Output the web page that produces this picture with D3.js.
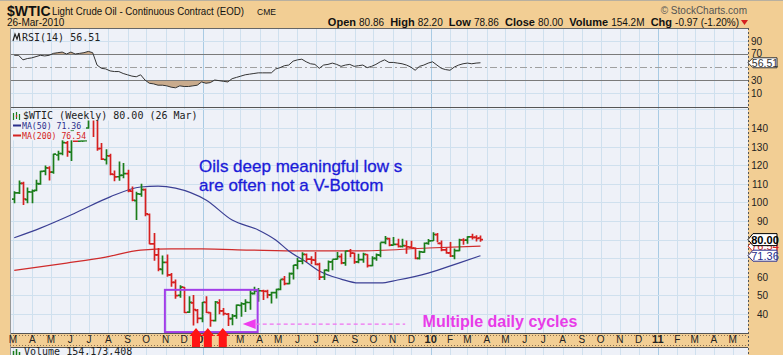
<!DOCTYPE html>
<html>
<head>
<meta charset="utf-8">
<script src="https://cdn.jsdelivr.net/npm/d3@7"></script>
<style>
  body { margin: 0; background: #f2ce94; }
  svg { display: block; }
</style>
</head>
<body>
<div id="chart"></div>
<script>
// weekly bars, first one is the week ending Fri 7 Mar 2008
const firstWeek = Date.UTC(2008, 2, 7);

const opens = [101.8,105.1,110.2,101.5,105.6,106.5,110.0,116.8,118.5,116.3,125.5,126.3,132.0,127.0,133.0,133.0,133.1,140.0,145.0,145.0,
  129.0,123.0,125.0,115.0,113.8,114.6,115.5,106.0,101.0,104.5,106.9,93.5,77.7,71.8,64.0,67.8,61.0,57.0,50.0,54.4,
  41.0,46.0,42.0,37.7,46.3,40.8,36.5,46.0,41.7,40.0,37.5,39.0,44.7,45.5,46.2,51.0,52.4,52.5,52.2,50.3,
  51.5,53.2,58.6,56.3,61.7,66.3,68.4,72.0,69.5,69.0,66.7,59.9,63.5,68.0,69.5,70.9,67.5,73.9,72.7,68.0,
  69.3,72.0,66.0,69.9,71.7,78.5,80.5,77.0,77.4,76.3,76.7,76.0,75.5,69.9,73.3,78.0,79.4,82.7,78.0,74.5,
  72.9,71.2,74.1,79.8,79.7,81.5,81.2,80.86];
const highs = [105.97,111.8,111.1,108.0,106.9,112.2,117.0,119.9,119.5,126.2,127.8,135.09,133.0,139.12,133.4,133.4,133.5,145.85,147.27,146.7,
  132.0,128.6,126.2,117.2,122.0,121.2,117.6,108.6,105.8,110.0,107.5,94.0,83.5,75.5,71.5,72.0,62.0,58.5,55.5,54.5,
  49.6,50.2,42.7,46.5,49.5,41.0,47.0,48.0,43.2,40.5,40.0,45.1,46.3,47.9,53.0,54.7,54.0,53.0,53.0,52.0,
  53.6,58.6,60.5,62.3,66.3,70.3,73.23,72.5,71.0,73.38,67.5,64.0,68.8,69.3,73.3,72.5,74.0,75.0,73.0,72.4,
  73.0,72.1,71.0,72.5,78.5,82.0,81.0,81.4,80.5,80.5,79.5,79.4,75.8,74.0,78.5,80.3,83.95,83.5,79.5,75.6,
  78.7,75.2,80.5,80.7,81.8,83.2,82.3,82.20];
const lows = [99.5,104.5,98.65,99.5,99.55,106.0,109.5,114.6,111.8,115.4,122.5,125.3,124.6,122.3,132.6,132.6,132.7,139.6,135.2,127.8,
  122.8,120.4,114.6,111.34,111.6,113.0,105.5,100.6,90.5,103.0,92.5,77.56,68.6,63.0,61.3,60.0,54.6,48.25,48.7,40.5,
  40.5,33.87,35.1,35.6,40.5,33.2,36.0,39.9,39.2,33.55,33.98,37.5,38.5,41.1,42.3,50.5,46.6,47.5,48.5,45.7,
  48.3,52.8,55.5,56.0,58.5,64.1,66.8,68.0,66.7,66.2,58.3,58.3,62.7,63.5,69.3,66.7,66.0,70.5,67.0,67.3,
  67.6,65.0,65.7,68.6,70.5,77.5,76.5,76.8,75.8,75.7,72.4,75.4,69.5,69.3,73.0,77.2,79.2,78.6,73.7,72.4,
  70.7,69.5,73.7,77.3,77.8,80.1,79.0,78.86];
const closes = [105.15,110.21,101.84,105.62,106.23,110.14,116.69,118.52,116.32,125.96,126.29,132.19,127.35,138.54,133.0,133.1,133.2,145.29,145.08,128.88,
  123.26,125.10,115.20,113.77,114.59,115.46,106.23,101.18,104.55,106.89,93.88,77.70,71.85,64.15,67.81,61.04,57.04,49.93,54.43,40.81,
  46.28,42.36,37.71,46.34,40.83,36.51,46.47,41.68,40.17,37.51,38.94,44.76,45.52,46.25,51.06,52.38,52.51,52.24,50.33,51.55,
  53.20,58.63,56.34,61.67,66.31,68.44,72.04,69.55,69.16,66.73,59.89,63.56,68.05,69.45,70.93,67.51,73.89,72.74,68.02,69.29,
  72.04,66.02,69.95,71.77,78.53,80.50,77.00,77.43,76.35,76.72,76.05,75.47,69.87,73.36,78.05,79.36,82.75,78.00,74.54,72.89,
  71.19,74.13,79.81,79.66,81.50,81.24,80.68,80.00];

// RSI(14), one value per weekly bar
const rsiValues = [68,68,61,63,64,66,68,67,68,71,72,73,70,73,70,71,72,74,72,53,
  48,47,44,43,43,40,38,36,35,38,30,25,24,22,22,21,19,18,21,20,
  20,21,22,27,25,26,30,29,28,27,32,34,36,38,39,40,41,41,41,41,
  47,49,52,53,59,61,62,58,55,54,48,53,54,56,54,51,53,54,51,52,
  53,49,51,54,58,61,57,57,56,55,53,50,45,51,53,56,58,53,48,46,
  45,50,53,55,56,55,56,56.51];

// moving averages at a few bars (bar index -> value)
const ma50Weeks  = [0, 6, 14, 22, 29, 33, 37, 44, 50, 56, 60, 63, 67, 70, 75, 79, 84, 88, 95, 102, 107];
const ma50Values = [81, 86.2, 94.3, 103, 108.3, 108.8, 107.7, 101.3, 90.5, 85.2, 79.8, 73.9, 68, 63.1, 58.8, 56.7, 56.7, 58.3, 62, 67.4, 71.36];
const ma200Weeks  = [0, 12, 21, 29, 36, 43, 54, 66, 79, 95, 107];
const ma200Values = [63.5, 67.4, 70.6, 74.4, 75, 75, 74.4, 73.9, 73.9, 75.5, 76.54];

const priceTicks = [40, 50, 60, 90, 100, 110, 120, 130, 140];
const priceGrid = [40, 50, 60, 70, 80, 90, 100, 110, 120, 130, 140, 150];
const rsiTicks = [10, 30, 70, 90];

// annotations
const lowArrows = [Date.UTC(2008, 11, 20), Date.UTC(2009, 0, 8), Date.UTC(2009, 1, 1)];

const W = 783, H = 355;
const left = 10, right = 748;
const rsiTop = 28, rsiBottom = 107, mainTop = 107, mainBottom = 333, volTop = 347;
const panelBg = "#eef1f8";
const gridCol = "#cfe0ee";
const yearGridCol = "#a9cbe4";
const upCol = "#1b7d1b", downCol = "#d62020";

const dates = d3.range(closes.length).map(i => d3.utcDay.offset(new Date(firstWeek), 7 * i - 4));

const x = d3.scaleUtc()
  .domain([new Date(Date.UTC(2008, 2, 1)), new Date(Date.UTC(2011, 0, 1))])
  .range([13, 657.9]);
const y = d3.scaleLinear().domain([29.8, 151.3]).range([mainBottom, mainTop]);
const yr = d3.scaleLinear().domain([0, 100]).range([99.5, 34.5]);

const svg = d3.select("#chart").append("svg")
  .attr("width", W)
  .attr("height", H)
  .style("font-family", "'Liberation Sans', Arial, sans-serif");

svg.append("rect").attr("width", W).attr("height", H).attr("fill", "#f2ce94");
svg.append("line").attr("x1", 0).attr("x2", W).attr("y1", 0.5).attr("y2", 0.5).attr("stroke", "#b8b0a0");

const defs = svg.append("defs");
defs.append("clipPath").attr("id", "clipRsi").append("rect")
  .attr("x", left).attr("y", rsiTop).attr("width", right - left).attr("height", rsiBottom - rsiTop);
defs.append("clipPath").attr("id", "clipMain").append("rect")
  .attr("x", left).attr("y", mainTop).attr("width", right - left).attr("height", mainBottom - mainTop);
defs.append("clipPath").attr("id", "clipOver").append("rect")
  .attr("x", left).attr("y", rsiTop).attr("width", right - left).attr("height", yr(70) - rsiTop);
defs.append("clipPath").attr("id", "clipUnder").append("rect")
  .attr("x", left).attr("y", yr(30)).attr("width", right - left).attr("height", rsiBottom - yr(30));

// panel backgrounds
[[rsiTop, rsiBottom], [mainTop, mainBottom], [volTop, H + 5]].forEach(p => {
  svg.append("rect")
    .attr("x", left).attr("y", p[0]).attr("width", right - left).attr("height", p[1] - p[0])
    .attr("fill", panelBg);
});

const months = d3.utcMonth.range(new Date(Date.UTC(2008, 2, 1)), new Date(Date.UTC(2011, 5, 1)))
  .filter(d => x(d) < right - 2);

// vertical month grid in every panel
[[rsiTop, rsiBottom], [mainTop, mainBottom], [volTop, H]].forEach(p => {
  svg.append("g").selectAll("line")
    .data(months)
    .join("line")
      .attr("x1", d => Math.round(x(d)) + 0.5)
      .attr("x2", d => Math.round(x(d)) + 0.5)
      .attr("y1", p[0]).attr("y2", p[1])
      .attr("stroke", d => d.getUTCMonth() == 0 ? yearGridCol : gridCol);
});

// horizontal grid
svg.append("g").selectAll("line")
  .data(priceGrid)
  .join("line")
    .attr("x1", left).attr("x2", right)
    .attr("y1", d => Math.round(y(d)) + 0.5).attr("y2", d => Math.round(y(d)) + 0.5)
    .attr("stroke", gridCol);
svg.append("g").selectAll("line")
  .data([10, 90])
  .join("line")
    .attr("x1", left).attr("x2", right)
    .attr("y1", d => Math.round(yr(d)) + 0.5).attr("y2", d => Math.round(yr(d)) + 0.5)
    .attr("stroke", gridCol);

// ---------- RSI panel ----------
const rsiG = svg.append("g").attr("clip-path", "url(#clipRsi)");
const rsiArea70 = d3.area().x((d, i) => x(dates[i])).y0(yr(70)).y1(d => yr(d));
const rsiArea30 = d3.area().x((d, i) => x(dates[i])).y0(yr(30)).y1(d => yr(d));
rsiG.append("path").datum(rsiValues).attr("d", rsiArea70)
  .attr("fill", "#c9ab8d").attr("clip-path", "url(#clipOver)");
rsiG.append("path").datum(rsiValues).attr("d", rsiArea30)
  .attr("fill", "#c9ab8d").attr("clip-path", "url(#clipUnder)");

rsiG.selectAll(".lvl")
  .data([70, 30])
  .join("line")
    .attr("x1", left).attr("x2", right)
    .attr("y1", d => Math.round(yr(d)) + 0.5).attr("y2", d => Math.round(yr(d)) + 0.5)
    .attr("stroke", "#7a7a7a");
rsiG.append("line")
  .attr("x1", left).attr("x2", right)
  .attr("y1", Math.round(yr(50)) + 0.5).attr("y2", Math.round(yr(50)) + 0.5)
  .attr("stroke", "#a0a0a0").attr("stroke-dasharray", "7,3,2,3");

rsiG.append("path").datum(rsiValues)
  .attr("d", d3.line().x((d, i) => x(dates[i])).y(d => yr(d)))
  .attr("fill", "none").attr("stroke", "#333").attr("stroke-width", 1);

// RSI label
svg.append("path").attr("d", "M13,41 L15,34 L17,39 L19,33 L20,41")
  .attr("fill", "none").attr("stroke", "#222").attr("stroke-width", 1.2);
svg.append("text").attr("x", 22).attr("y", 40.5)
  .style("font-family", "'DejaVu Sans Mono', monospace").style("font-size", "10px")
  .attr("fill", "#222").text("RSI(14) 56.51");

svg.append("g").selectAll("text")
  .data(rsiTicks)
  .join("text")
    .attr("x", 751).attr("y", d => yr(d) + (d == 70 ? 2.5 : 3.5))
    .style("font-size", "10px").attr("fill", "#222")
    .text(d => d);

// ---------- price panel ----------
const mainG = svg.append("g").attr("clip-path", "url(#clipMain)");

const maLine = d3.line()
  .x(d => x(dates[Math.min(d[0], dates.length - 1)]))
  .y(d => y(d[1]))
  .curve(d3.curveMonotoneX);

mainG.append("path")
  .datum(ma200Weeks.map((w, i) => [w, ma200Values[i]]))
  .attr("d", maLine)
  .attr("fill", "none").attr("stroke", "#cf2b2b").attr("stroke-width", 1.2);
mainG.append("path")
  .datum(ma50Weeks.map((w, i) => [w, ma50Values[i]]))
  .attr("d", maLine)
  .attr("fill", "none").attr("stroke", "#3b3f94").attr("stroke-width", 1.2);

// the weekly OHLC bars
const bars = d3.range(closes.length).map(i => ({
  date: dates[i], o: opens[i], h: highs[i], l: lows[i], c: closes[i],
  up: i == 0 ? true : closes[i] >= closes[i - 1]
}));

mainG.append("g").selectAll("path")
  .data(bars)
  .join("path")
    .attr("d", d => {
      const bx = Math.round(x(d.date)) + 0.5;
      return `M${bx},${y(d.h)}V${y(d.l)}M${bx - 2.5},${y(d.o)}H${bx}M${bx},${y(d.c)}H${bx + 2.5}`;
    })
    .attr("fill", "none")
    .attr("stroke", d => d.up ? upCol : downCol)
    .attr("stroke-width", 1.7);

// legend, with a background like stockcharts so the bars don't run through it
const legend = svg.append("g").style("font-family", "'DejaVu Sans Mono', monospace");
const legendRows = [
  {txt: "$WTIC (Weekly) 80.00 (26 Mar)", col: "#222", yy: 118.5, fs: 10, cw: 6.02},
  {txt: "MA(50) 71.36", col: "#2a2f8c", yy: 128.5, fs: 8.2, cw: 4.94},
  {txt: "MA(200) 76.54", col: "#d42222", yy: 138.5, fs: 8.2, cw: 4.94}
];
legendRows.forEach(r => {
  legend.append("rect").attr("x", 12).attr("y", r.yy - r.fs * 0.9).attr("width", 11 + r.txt.length * r.cw).attr("height", r.fs + 1)
    .attr("fill", panelBg);
});
legend.append("path").attr("d", "M13.5,113V120M16.5,112V119M19.5,114V120").attr("stroke", upCol).attr("stroke-width", 1.2);
legend.append("path").attr("d", "M16.5,115V117").attr("stroke", downCol).attr("stroke-width", 1.2);
legend.append("line").attr("x1", 13).attr("x2", 21).attr("y1", 125.5).attr("y2", 125.5).attr("stroke", "#2a2f8c").attr("stroke-width", 2);
legend.append("line").attr("x1", 13).attr("x2", 21).attr("y1", 135.5).attr("y2", 135.5).attr("stroke", "#d42222").attr("stroke-width", 2);
legendRows.forEach(r => {
  legend.append("text").attr("x", r.txt[0] == "$" ? 23 : 22).attr("y", r.yy)
    .style("font-size", r.fs + "px").attr("fill", r.col).text(r.txt);
});

// annotations
svg.append("text")
  .attr("x", x(new Date(Date.UTC(2008, 11, 25)))).attr("y", y(116.3))
  .style("font-size", "17px").attr("fill", "#1b1bd8")
  .attr("stroke", "#1b1bd8").attr("stroke-width", 0.3)
  .text("Oils deep meaningful low s");
svg.append("text")
  .attr("x", x(new Date(Date.UTC(2008, 11, 25)))).attr("y", y(106.1))
  .style("font-size", "17px").attr("fill", "#1b1bd8")
  .attr("stroke", "#1b1bd8").attr("stroke-width", 0.3)
  .text("are often not a V-Bottom");

const boxX0 = x(new Date(Date.UTC(2008, 9, 31))), boxX1 = x(new Date(Date.UTC(2009, 2, 29)));
svg.append("rect")
  .attr("x", boxX0).attr("y", y(53))
  .attr("width", boxX1 - boxX0).attr("height", y(30.3) - y(53))
  .attr("fill", "none").attr("stroke", "#a23ee8").attr("stroke-width", 2);

const arrowY = y(34.6);
const tipX = x(new Date(Date.UTC(2009, 2, 5)));
svg.append("path")
  .attr("d", `M${tipX},${arrowY}L${tipX + 13},${arrowY - 5}L${tipX + 13},${arrowY + 5}Z`)
  .attr("fill", "#ee3cee");
svg.append("line")
  .attr("x1", tipX + 13).attr("x2", x(new Date(Date.UTC(2009, 10, 21))))
  .attr("y1", arrowY).attr("y2", arrowY)
  .attr("stroke", "#f070f0").attr("stroke-width", 1.3).attr("stroke-dasharray", "4,3");

svg.append("text")
  .attr("x", x(new Date(Date.UTC(2009, 11, 19)))).attr("y", y(33))
  .style("font-size", "16px").style("font-weight", "bold").attr("fill", "#e83ce8")
  .text("Multiple daily cycles");

// right axis labels
svg.append("g").selectAll("text")
  .data(priceTicks)
  .join("text")
    .attr("x", 768).attr("y", d => y(d) + 4)
    .attr("text-anchor", "end")
    .style("font-size", "10px").attr("fill", "#222")
    .text(d => d);

// value markers on the right edge
function marker(cy, label, col, bold, hh, fs) {
  const g = svg.append("g");
  g.append("path")
    .attr("d", `M${right},${cy}L${right + 5},${cy - hh}H${right + 29}V${cy + hh}H${right + 5}Z`)
    .attr("fill", "#fff").attr("stroke", col).attr("stroke-width", 1);
  g.append("text")
    .attr("x", right + 17).attr("y", cy + fs * 0.36)
    .attr("text-anchor", "middle")
    .style("font-size", fs + "px").style("font-weight", bold ? "bold" : "normal")
    .attr("fill", col)
    .text(label);
}
marker(y(76.54), "76.54", "#d42222", false, 5.5, 11);
marker(y(71.36), "71.36", "#2a2f8c", false, 5.5, 11);
marker(y(80.00), "80.00", "#000", true, 6, 11);
marker(yr(56.51), "56.51", "#333", false, 5, 10.5);

// panel borders
svg.append("line").attr("x1", left).attr("x2", right).attr("y1", rsiTop + 0.5).attr("y2", rsiTop + 0.5).attr("stroke", "#666");
svg.append("line").attr("x1", left).attr("x2", right).attr("y1", mainTop + 0.5).attr("y2", mainTop + 0.5).attr("stroke", "#555");
svg.append("line").attr("x1", left).attr("x2", right).attr("y1", mainBottom + 0.5).attr("y2", mainBottom + 0.5).attr("stroke", "#555");
svg.append("line").attr("x1", left).attr("x2", right).attr("y1", volTop + 0.5).attr("y2", volTop + 0.5).attr("stroke", "#555");
svg.append("line").attr("x1", left + 0.5).attr("x2", left + 0.5).attr("y1", rsiTop).attr("y2", H).attr("stroke", "#999");
svg.append("line").attr("x1", right + 0.5).attr("x2", right + 0.5).attr("y1", rsiTop).attr("y2", H)
  .attr("stroke", "#555").attr("stroke-dasharray", "2,2");

// x axis band with month letters
svg.append("line").attr("x1", left).attr("x2", right).attr("y1", mainBottom + 2.5).attr("y2", mainBottom + 2.5)
  .attr("stroke", "#8a7050").attr("stroke-dasharray", "1,2");
svg.append("line").attr("x1", left).attr("x2", right).attr("y1", volTop - 1.5).attr("y2", volTop - 1.5)
  .attr("stroke", "#8a7050").attr("stroke-dasharray", "1,2");
svg.append("g").selectAll("text")
  .data(months)
  .join("text")
    .attr("x", d => x(d)).attr("y", 343)
    .attr("text-anchor", "middle")
    .style("font-size", d => d.getUTCMonth() == 0 ? "11px" : "10px")
    .style("font-weight", d => d.getUTCMonth() == 0 ? "bold" : "normal")
    .attr("fill", "#222")
    .text(d => d.getUTCMonth() == 0 ? d3.utcFormat("%y")(d) : d3.utcFormat("%b")(d)[0]);

// the three red arrows at the lows
svg.append("g").selectAll("path")
  .data(lowArrows)
  .join("path")
    .attr("d", d => {
      const ax = x(new Date(d));
      return `M${ax},328L${ax + 6.5},336H${ax + 4}V347H${ax - 4}V336H${ax - 6.5}Z`;
    })
    .attr("fill", "#ff1414");

// volume panel label
svg.append("path").attr("d", "M13.5,351V355M16.5,349V355M19.5,352V355").attr("stroke", upCol).attr("stroke-width", 1.5);
svg.append("text").attr("x", 24).attr("y", 355)
  .style("font-family", "'DejaVu Sans Mono', monospace").style("font-size", "10px")
  .attr("fill", "#222").text("Volume 154,173,408");

// header
svg.append("text").attr("x", 7).attr("y", 15.5)
  .style("font-size", "14px").style("font-weight", "bold").attr("fill", "#111").text("$WTIC");
svg.append("text").attr("x", 52).attr("y", 15)
  .style("font-size", "10.5px").attr("fill", "#111")
  .attr("textLength", 192).attr("lengthAdjust", "spacingAndGlyphs")
  .text("Light Crude Oil - Continuous Contract (EOD)");
svg.append("text").attr("x", 257).attr("y", 15)
  .style("font-size", "8.5px").attr("fill", "#111").text("CME");
svg.append("text").attr("x", 7).attr("y", 26)
  .style("font-size", "10px").attr("fill", "#111").text("26-Mar-2010");
svg.append("text").attr("x", 747).attr("y", 14)
  .attr("text-anchor", "end")
  .style("font-size", "10px").attr("fill", "#555").text("\u00a9 StockCharts.com");

const quote = [["Open", "80.86"], ["High", "82.20"], ["Low", "78.86"], ["Close", "80.00"], ["Volume", "154.2M"], ["Chg", "-0.97 (-1.20%)"]];
const qt = svg.append("text").attr("x", 739).attr("y", 26).attr("text-anchor", "end").attr("fill", "#111");
quote.forEach((q, i) => {
  qt.append("tspan").style("font-size", "11px").style("font-weight", "bold").text((i ? "  " : "") + q[0] + " ");
  qt.append("tspan").style("font-size", "10px").text(q[1]);
});
qt.attr("xml:space", "preserve").style("white-space", "pre");
svg.append("path").attr("d", "M741,20H748L744.5,25Z").attr("fill", "#d42020");
</script>
</body>
</html>
